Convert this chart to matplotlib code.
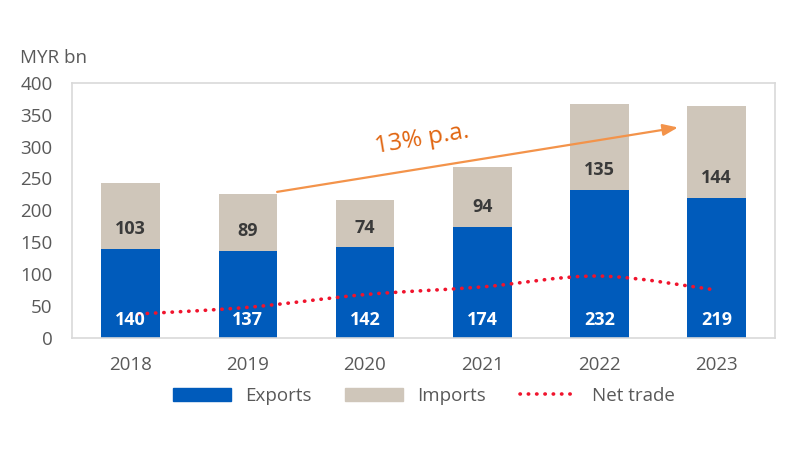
import numpy as np
import matplotlib
matplotlib.use("Agg")
import matplotlib.pyplot as plt
from matplotlib.path import Path
from matplotlib.patches import PathPatch, Patch
from matplotlib.lines import Line2D

plt.rcParams['font.family'] = ['Open Sans', 'DejaVu Sans']

YEARS = ['2018', '2019', '2020', '2021', '2022', '2023']
EXPORTS = [140, 137, 142, 174, 232, 219]
IMPORTS = [103, 89, 74, 94, 135, 144]
NET_TRADE = [37, 48, 68, 80, 97, 75]
GROWTH_LABEL = '13% p.a.'

BLUE = '#005BBB'
BEIGE = '#CFC6BA'
RED = '#F0142D'
ORANGE_TEXT = '#E0640F'
ORANGE_LINE = '#F3934A'
GREY = '#595959'


def smooth_path(xs, ys):
    # catmull-rom style bezier, like an excel "smoothed line"
    verts = [(xs[0], ys[0])]
    codes = [Path.MOVETO]
    n = len(xs)
    for i in range(n - 1):
        p0 = np.array([xs[max(i - 1, 0)], ys[max(i - 1, 0)]], float)
        p1 = np.array([xs[i], ys[i]], float)
        p2 = np.array([xs[i + 1], ys[i + 1]], float)
        p3 = np.array([xs[min(i + 2, n - 1)], ys[min(i + 2, n - 1)]], float)
        c1 = p1 + (p2 - p0) / 6
        c2 = p2 - (p3 - p1) / 6
        verts += [tuple(c1), tuple(c2), tuple(p2)]
        codes += [Path.CURVE4] * 3
    return Path(verts, codes)


fig = plt.figure(figsize=(8, 4.5), dpi=100)
ax = fig.add_axes([0.09, 0.249, 0.879, 0.567])

x = np.arange(len(YEARS))
ax.bar(x, EXPORTS, width=0.5, color=BLUE, zorder=2)
ax.bar(x, IMPORTS, width=0.5, bottom=EXPORTS, color=BEIGE, zorder=2)

for xi, e, m in zip(x, EXPORTS, IMPORTS):
    ax.text(xi, 28, str(e), ha='center', va='center', color='white',
            fontsize=13, fontweight='bold', zorder=4)
    ax.text(xi, e + 31, str(m), ha='center', va='center', color='#3A3A3A',
            fontsize=13, fontweight='bold', zorder=4)

net = PathPatch(smooth_path(x, NET_TRADE), fill=False, edgecolor=RED,
                lw=2.6, linestyle=(0, (0.1, 2.2)), capstyle='round', zorder=3)
ax.add_patch(net)

ax.annotate('', xy=(4.67, 330), xytext=(1.25, 229),
            arrowprops=dict(arrowstyle='-|>,head_length=0.9,head_width=0.35',
                            color=ORANGE_LINE, lw=1.6, shrinkA=0, shrinkB=0),
            zorder=5)
ax.text(2.49, 311, GROWTH_LABEL, ha='center', va='center', rotation=9.5,
        color=ORANGE_TEXT, fontsize=17.5, rotation_mode='anchor')

ax.set_xlim(-0.5, 5.5)
ax.set_ylim(0, 400)
ax.set_yticks(range(0, 401, 50))
ax.set_xticks(x)
ax.set_xticklabels(YEARS)
ax.tick_params(axis='both', length=0, labelsize=13.5, colors=GREY)
ax.tick_params(axis='y', pad=14)
ax.tick_params(axis='x', pad=13)
for s in ax.spines.values():
    s.set_color('#D9D9D9')
    s.set_linewidth(1.2)

fig.text(0.025, 0.872, 'MYR bn', color=GREY, fontsize=13.5, va='center')

handles = [Patch(color=BLUE), Patch(color=BEIGE),
           Line2D([], [], color=RED, lw=2.6, linestyle=(0, (0.1, 2.2)),
                  dash_capstyle='round')]
fig.legend(handles, ['Exports', 'Imports', 'Net trade'], ncol=3,
           loc='center', bbox_to_anchor=(0.53, 0.12), frameon=False,
           fontsize=13.5, labelcolor=GREY, handlelength=3.1,
           handletextpad=0.75, columnspacing=1.8)

fig.savefig('out.png', dpi=100)
